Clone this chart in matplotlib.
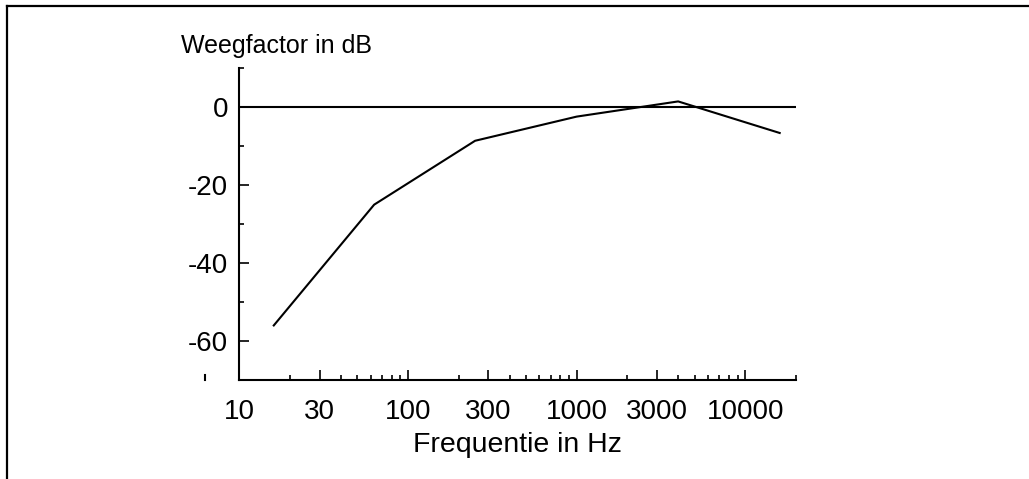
import matplotlib
matplotlib.use("Agg")
import matplotlib.pyplot as plt
from matplotlib.lines import Line2D
from matplotlib.ticker import FixedLocator, FixedFormatter

# A-weging
freq = [16, 63, 250, 1000, 4000, 16000]
weeg_db = [-56, -25, -8.6, -2.4, 1.5, -6.6]

xticks_major = [10, 30, 100, 300, 1000, 3000, 10000]
xticks_minor = [20, 40, 50, 60, 70, 80, 90, 200, 400, 500, 600, 700, 800, 900,
                2000, 4000, 5000, 6000, 7000, 8000, 9000, 20000]
yticks_major = [0, -20, -40, -60]
yticks_minor = [10, -10, -30, -50]

plt.rcParams['font.family'] = ['Liberation Sans', 'DejaVu Sans']
plt.rcParams['axes.unicode_minus'] = False

fig = plt.figure(figsize=(10.29, 4.79), dpi=100)
ax = fig.add_axes([0.2326, 0.2067, 0.541, 0.6507])

ax.plot(freq, weeg_db, color='black', lw=1.5)
ax.axhline(0, color='black', lw=1.5)

ax.set_xscale('log')
ax.set_xlim(10, 20000)
ax.set_ylim(-70, 10)

ax.xaxis.set_major_locator(FixedLocator(xticks_major))
ax.xaxis.set_major_formatter(FixedFormatter([str(t) for t in xticks_major]))
ax.xaxis.set_minor_locator(FixedLocator(xticks_minor))
ax.xaxis.set_minor_formatter(FixedFormatter([]))
ax.yaxis.set_major_locator(FixedLocator(yticks_major))
ax.yaxis.set_minor_locator(FixedLocator(yticks_minor))

ax.tick_params(which='both', direction='in', width=1.2, labelsize=20)
ax.tick_params(which='major', length=7)
ax.tick_params(which='minor', length=3.5)
ax.tick_params(axis='y', pad=8)
ax.tick_params(axis='x', pad=13.5)

for s in ['top', 'right']:
    ax.spines[s].set_visible(False)
for s in ['left', 'bottom']:
    ax.spines[s].set_linewidth(1.5)

ax.set_xlabel('Frequentie in Hz', fontsize=20.5, labelpad=5)
ax.text(-0.105, 1.07, 'Weegfactor in dB', transform=ax.transAxes,
        fontsize=18, ha='left', va='center')

# klein streepje links onder
ax.add_line(Line2D([-0.061, -0.061], [0.0, 0.016], transform=ax.transAxes,
                   color='black', lw=1.5, clip_on=False))

# rand om de figuur (links en boven)
fig.add_artist(Line2D([7 / 1029, 7 / 1029], [0, 1 - 6 / 479], color='black', lw=1.6))
fig.add_artist(Line2D([7 / 1029, 1], [1 - 6 / 479, 1 - 6 / 479], color='black', lw=1.6))

fig.savefig('out.png', dpi=100)
